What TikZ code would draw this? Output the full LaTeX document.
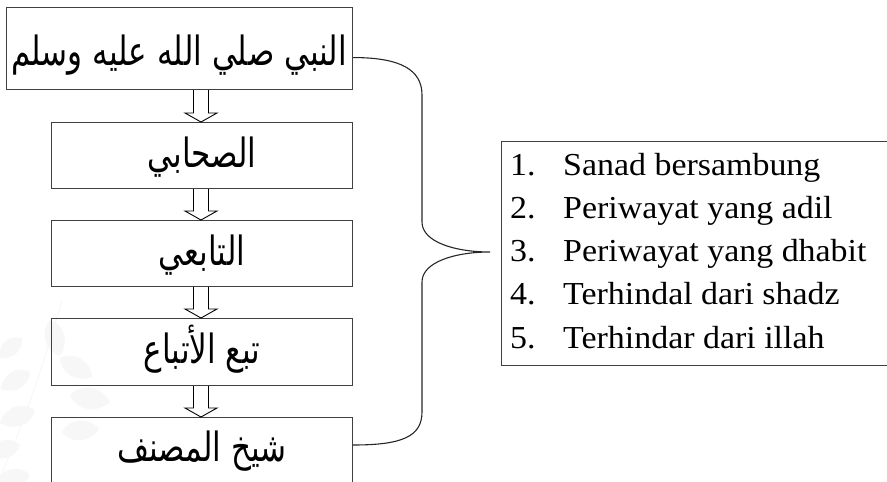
\documentclass[tikz,border=0pt]{standalone}
\usepackage{fontspec}
\setmainfont{Liberation Serif}
\newfontfamily\arabicfont[Script=Arabic]{DejaVu Sans}
\TeXXeTstate=1
\usetikzlibrary{calc}

\begin{document}
\begin{tikzpicture}[x=1pt,y=-1pt,
  box/.style={draw=black!75, line width=1.1pt, inner sep=0pt, anchor=north west},
  artext/.style={font=\arabicfont\fontsize{31}{36}\selectfont, anchor=base, inner sep=0pt, yscale=1.3},
  itemtext/.style={font=\fontsize{32}{36}\selectfont, anchor=base west, inner sep=0pt, xscale=1.06},
  hollow/.style={draw=black, line width=0.9pt, line join=miter, fill=white},
  brace/.style={draw=black!85, line width=1.1pt},
  leaf/.style={fill=black!3, draw=none}]
\useasboundingbox (0,0) rectangle (887,482);
\clip (0,0) rectangle (887,482);

% faint leafy sprig in the lower left corner
\draw[black!4, line width=0.8pt] (0,478) .. controls (25,420) and (45,360) .. (62,300);
\foreach \x/\y/\a/\s in {50/320/-75/1.1, 22/338/-140/0.9, 60/358/-30/1.1, 30/372/-150/1.0,
                         70/395/-10/1.2, 35/410/-160/1.1, 62/432/5/1.1, 20/445/-165/1.0, 30/475/-170/1.0}
  \fill[leaf, shift={(\x,\y)}, rotate=\a, scale=\s]
    (0,0) .. controls (8,-12) and (24,-12) .. (34,0) .. controls (24,12) and (8,12) .. (0,0);

% chain of narrators
\node[box, minimum width=346pt, minimum height=82pt] (b1) at (6,7) {};
\node[box, minimum width=301pt, minimum height=66pt] (b2) at (51,122) {};
\node[box, minimum width=301pt, minimum height=66pt] (b3) at (51,220) {};
\node[box, minimum width=301pt, minimum height=67pt] (b4) at (51,318) {};
\node[box, minimum width=301pt, minimum height=100pt] (b5) at (51,417) {};

\node[artext] (t1) at (179,65) {\beginR النبي صلي الله عليه وسلم\endR};
\node[artext] (t2) at (202,167) {\beginR الصحابي\endR};
\node[artext] (t3) at (202,265) {\beginR التابعي\endR};
\node[artext] (t4) at (202,363) {\beginR تبع الأتباع\endR};
\node[artext] (t5) at (202,461) {\beginR شيخ المصنف\endR};

% hollow block arrows between the boxes
\coordinate (ax) at (201,0);
\foreach \a/\b in {b1/b2, b2/b3, b3/b4, b4/b5} {
  \path[hollow] let \p1=(\a.south -| ax), \p2=(\b.north -| ax) in
    (\x1-7.5pt,\y1) -- (\x1-7.5pt,\y2+9pt) -- (\x1-16pt,\y2+9pt) -- (\x1,\y2)
    -- (\x1+16pt,\y2+9pt) -- (\x1+7.5pt,\y2+9pt) -- (\x1+7.5pt,\y1);
}

% criteria list
\node[box, minimum width=420pt, minimum height=224pt] (lst) at (501,141) {};
\foreach \n/\txt [count=\i] in {1/Sanad bersambung, 2/Periwayat yang adil, 3/Periwayat yang dhabit, 4/Terhindal dari shadz, 5/Terhindar dari illah} {
  \node[itemtext] (num\i) at ($(lst.north west)+(9,34+43.3*\i-43.3)$) {\n.};
  \node[itemtext] (it\i) at ($(lst.north west)+(62,34+43.3*\i-43.3)$) {\txt};
}

% brace gathering the chain towards the list
\coordinate (bs) at ($(b1.east)+(0,9)$);
\coordinate (be) at ($(b5.north east)+(0,28)$);
\coordinate (tip) at (490,252);
\draw[brace] (bs) .. controls +(48,0) and (422,70) .. (422,95) -- (422,222)
  .. controls (422,242) and (455,252) .. (tip)
  .. controls (455,252) and (422,262) .. (422,282) -- (422,412)
  .. controls (422,437) and +(48,0) .. (be);
\end{tikzpicture}
\end{document}
